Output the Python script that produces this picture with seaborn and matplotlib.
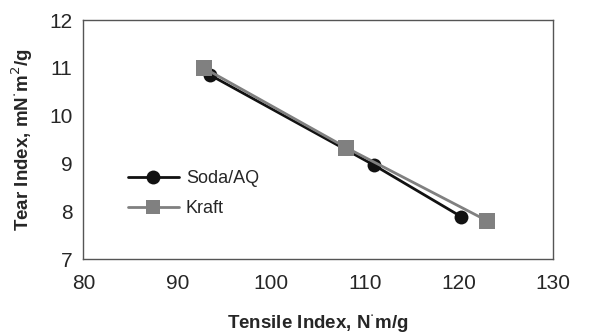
import numpy as np
import pandas as pd
import matplotlib
matplotlib.use('Agg')
import matplotlib.pyplot as plt
import seaborn as sns

# values
soda_tensile = [93.5, 110.9, 120.2]
soda_tear = [10.85, 8.97, 7.89]
kraft_tensile = [92.8, 108.0, 123.0]
kraft_tear = [11.0, 9.33, 7.80]
series_names = ['Soda/AQ', 'Kraft']

df = pd.concat([
    pd.DataFrame({'tensile': soda_tensile, 'tear': soda_tear, 'pulp': series_names[0]}),
    pd.DataFrame({'tensile': kraft_tensile, 'tear': kraft_tear, 'pulp': series_names[1]}),
])

sns.set_style('white')
plt.rcParams['font.family'] = ['Liberation Sans', 'DejaVu Sans']

fig = plt.figure(figsize=(6.05, 3.36), dpi=100)
ax = fig.add_axes([0.138, 0.229, 0.776, 0.711])

sns.lineplot(data=df, x='tensile', y='tear', hue='pulp', style='pulp',
             palette={'Soda/AQ': '#111111', 'Kraft': '#808080'},
             markers={'Soda/AQ': 'o', 'Kraft': 's'}, dashes=False,
             markersize=10, markeredgewidth=0, linewidth=2, sort=False,
             estimator=None, ax=ax)
# square a bit bigger, like the original
ax.lines[1].set_markersize(11)

ax.set_xlim(80, 130)
ax.set_ylim(7, 12)
ax.set_xticks(np.arange(80, 131, 10))
ax.set_yticks(np.arange(7, 13, 1))
ax.tick_params(axis='both', labelsize=15, length=5, width=1, color='#555555')
ax.tick_params(axis='x', direction='inout', pad=8)
ax.tick_params(axis='y', direction='out', pad=3)
for s in ax.spines.values():
    s.set_color('#555555')
    s.set_linewidth(1)

ax.set_xlabel('Tensile Index, N$^{\\cdot}$m/g', fontsize=13.5, fontweight='bold', labelpad=15)
ax.set_ylabel('Tear Index, mN$^{\\cdot}$m$^{2}$/g', fontsize=13.5, fontweight='bold', labelpad=10)

ax.legend(loc='center left', bbox_to_anchor=(0.095, 0.274), frameon=False,
          fontsize=13, handlelength=2.8, handletextpad=0.4, labelspacing=0.7,
          borderaxespad=0, borderpad=0, title=None)

fig.savefig('out.png', dpi=100)
